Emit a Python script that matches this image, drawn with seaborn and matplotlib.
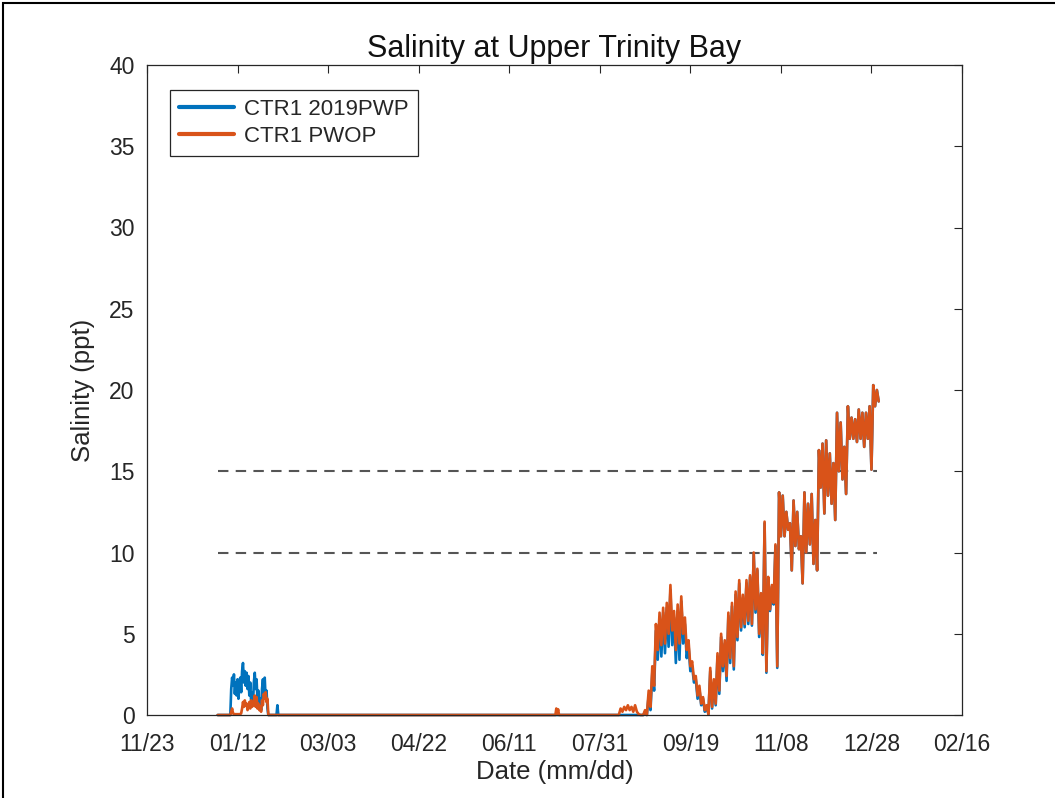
import matplotlib
matplotlib.use("Agg")
import matplotlib.pyplot as plt
import matplotlib.dates as mdates
import matplotlib.patches as mpatches
import numpy as np
import pandas as pd
import seaborn as sns

# day offsets in 2019 (0 = Jan 1)
jan_days = [0.0, 6.5, 7.0, 7.5, 8.0, 8.5, 9.0, 9.5, 10.0, 10.5, 11.0, 11.5,
            12.0, 12.5, 13.0, 13.5, 14.0, 14.5, 15.0, 15.5, 16.0, 16.5, 17.0,
            17.5, 18.0, 18.5, 19.0, 19.5, 20.0, 20.5, 21.0, 21.5, 22.0, 22.5,
            23.0, 23.5, 24.0, 24.5, 25.0, 25.5, 26.0, 26.5, 27.0, 27.5, 28.0,
            32.5, 33.0, 33.5]
jan_2019pwp = [0.0, 0.0, 0.0, 1.6, 2.3, 1.8, 2.5, 1.3, 2.0, 1.2, 2.2, 1.0,
               1.9, 2.3, 1.4, 2.7, 3.2, 2.0, 2.7, 1.8, 2.6, 1.6, 2.4,
               1.2, 2.0, 0.8, 1.4, 0.6, 2.0, 2.6, 1.6, 2.2, 0.9, 1.5,
               0.5, 1.0, 0.3, 1.6, 2.2, 1.2, 2.3, 1.0, 1.5, 0.4, 0.0,
               0.0, 0.6, 0.0]
jan_pwop = [0.0, 0.0, 0.0, 0.2, 0.4, 0.1, 0.05, 0.05, 0.05, 0.05, 0.05, 0.05,
            0.05, 0.05, 0.1, 0.4, 0.8, 0.5, 0.9, 0.6, 0.7, 0.3, 0.5,
            0.8, 0.4, 0.9, 0.5, 0.6, 0.8, 1.2, 0.5, 1.1, 0.4, 0.7,
            0.3, 0.5, 0.2, 0.9, 0.6, 1.3, 1.0, 1.4, 0.8, 1.0, 0.0,
            0.0, 0.0, 0.0]

# summer: both near zero, a few small bumps in PWOP
summer_days = [186.5, 187.0, 187.5, 188.0, 188.5, 221.5, 222.5, 223.5,
               224.5, 225.5, 226.5, 227.5, 228.5, 229.5, 230.5, 231.5,
               232.5, 233.5, 235.0]
summer_2019pwp = [0.0, 0.0, 0.0, 0.0, 0.0, 0.0, 0.0, 0.0,
                  0.0, 0.0, 0.0, 0.0, 0.0, 0.0, 0.0, 0.0,
                  0.0, 0.0, 0.0]
summer_pwop = [0.0, 0.4, 0.1, 0.35, 0.0, 0.0, 0.4, 0.2,
               0.5, 0.3, 0.6, 0.3, 0.5, 0.2, 0.6, 0.2,
               0.05, 0.0, 0.0]

# fall: tidal band, high and low reading for each 2-day step
fall_days = list(range(236, 366, 2))
pwop_hi = [0.3, 1.5, 3.0, 5.6, 6.3, 6.6, 6.9, 8.0, 6.4, 6.8, 7.3, 6.0, 4.6,
           3.3, 2.4, 1.8, 1.1, 0.6, 2.9, 2.2, 3.8, 5.0, 4.6, 6.3, 6.9, 7.6,
           8.3, 7.4, 8.3, 8.6, 10.0, 9.0, 7.5, 11.9, 8.5, 8.0, 10.5, 13.7,
           13.5, 12.5, 11.8, 13.2, 12.5, 11.0, 13.7, 13.0, 13.6, 12.0, 16.3,
           16.7, 16.9, 16.1, 15.5, 18.6, 18.0, 16.5, 19.0, 18.3, 18.2, 18.8,
           18.6, 18.6, 19.0, 20.3, 20.0]
pwop_lo = [0.0, 0.5, 1.8, 4.0, 4.3, 4.4, 5.0, 5.2, 4.0, 4.4, 5.0, 4.0, 3.0,
           2.2, 1.2, 0.7, 0.3, 0.05, 0.5, 0.7, 1.5, 3.0, 2.4, 3.5, 3.0, 4.8,
           5.4, 5.6, 5.8, 5.6, 6.5, 5.0, 3.8, 2.7, 6.5, 6.9, 3.0, 11.0,
           11.0, 11.4, 8.9, 10.4, 10.2, 8.1, 10.0, 10.5, 9.3, 8.9, 14.0,
           12.4, 13.5, 13.0, 12.0, 15.0, 14.5, 13.6, 17.0, 17.0, 16.8, 17.0,
           16.5, 17.0, 15.1, 19.0, 19.3]
pwp_hi = [0.2, 1.2, 2.6, 5.2, 6.0, 6.3, 6.6, 7.7, 6.0, 6.4, 7.0, 5.6, 4.3,
          3.0, 2.2, 1.6, 1.0, 0.5, 2.7, 2.0, 3.6, 4.8, 4.4, 6.1, 6.7, 7.4,
          8.1, 7.2, 8.1, 8.5, 9.9, 8.9, 7.4, 11.8, 8.4, 7.9, 10.4, 13.7,
          13.5, 12.5, 11.8, 13.2, 12.5, 11.0, 13.7, 13.0, 13.6, 12.0, 16.3,
          16.7, 16.9, 16.1, 15.5, 18.6, 18.0, 16.5, 19.0, 18.3, 18.2, 18.8,
          18.6, 18.6, 19.0, 20.3, 20.0]
pwp_lo = [0.0, 0.3, 1.5, 3.4, 3.6, 3.8, 4.2, 4.3, 3.2, 3.4, 4.4, 3.5, 2.7,
          2.0, 1.0, 0.6, 0.2, 0.05, 0.4, 0.6, 1.3, 2.7, 2.1, 3.2, 2.8, 4.6,
          5.2, 5.4, 5.6, 5.5, 6.3, 4.8, 3.7, 2.6, 6.4, 6.8, 2.9, 11.0,
          11.0, 11.4, 8.9, 10.4, 10.2, 8.1, 10.0, 10.5, 9.3, 8.9, 14.0,
          12.4, 13.5, 13.0, 12.0, 15.0, 14.5, 13.6, 17.0, 17.0, 16.8, 17.0,
          16.5, 17.0, 15.1, 19.0, 19.3]

series_names = ["CTR1 2019PWP", "CTR1 PWOP"]
series_colors = ["#0072BD", "#D95319"]
threshold_levels = [10, 15]
threshold_span = ["2019-01-01", "2019-12-31"]
tick_start, tick_end = "2018-11-23", "2020-02-16"


def zigzag(hi, lo):
    days = np.ravel(np.column_stack([fall_days, np.add(fall_days, 1)]))
    vals = np.ravel(np.column_stack([hi, lo]))
    return list(days), list(vals)


zz_days, zz_pwp = zigzag(pwp_hi, pwp_lo)
_, zz_pwop = zigzag(pwop_hi, pwop_lo)

start = pd.Timestamp("2019-01-01")
frames = []
for name, parts in [
    (series_names[0], [(jan_days, jan_2019pwp), (summer_days, summer_2019pwp), (zz_days, zz_pwp)]),
    (series_names[1], [(jan_days, jan_pwop), (summer_days, summer_pwop), (zz_days, zz_pwop)]),
]:
    d = np.concatenate([np.asarray(p[0], float) for p in parts])
    v = np.concatenate([np.asarray(p[1], float) for p in parts])
    frames.append(pd.DataFrame({
        "date": start + pd.to_timedelta(d, unit="D"),
        "salinity": v,
        "series": name,
    }))
df = pd.concat(frames, ignore_index=True)

sns.set_theme(style="white")
plt.rcParams["font.family"] = ["Liberation Sans", "DejaVu Sans"]

fig = plt.figure(figsize=(10.55, 7.98), dpi=100)
ax = fig.add_axes([147 / 1055, 1 - 715 / 798, 815 / 1055, 650 / 798])

sns.lineplot(data=df, x="date", y="salinity", hue="series",
             hue_order=series_names, palette=series_colors,
             estimator=None, sort=False, linewidth=1.9, ax=ax)
for ln in ax.get_lines():
    ln.set_clip_on(False)

for lvl in threshold_levels:
    ax.plot(pd.to_datetime(threshold_span), [lvl, lvl], color="#555555",
            linestyle=(0, (5, 3.5)), linewidth=1.5, zorder=1)

ax.set_xlim(pd.Timestamp(tick_start), pd.Timestamp(tick_end))
ax.set_ylim(0, 40)
ax.set_xticks(pd.date_range(tick_start, tick_end, freq="50D"))
ax.xaxis.set_major_formatter(mdates.DateFormatter("%m/%d"))
ax.set_yticks(range(0, 41, 5))
ax.tick_params(direction="in", length=6, width=0.8, colors="#262626",
               labelsize=16.5, top=True, right=True)
ax.tick_params(axis="x", pad=13)
ax.tick_params(axis="y", pad=9)
for s in ax.spines.values():
    s.set_color("#262626")
    s.set_linewidth(0.9)
    s.set_visible(True)

ax.set_title("Salinity at Upper Trinity Bay", fontsize=22, color="#111111", pad=6)
ax.set_xlabel("Date (mm/dd)", fontsize=18.5, color="#262626", labelpad=3)
ax.set_ylabel("Salinity (ppt)", fontsize=18.5, color="#262626", labelpad=10)

handles, labels = ax.get_legend_handles_labels()
leg = ax.legend(handles, labels, loc="upper left", bbox_to_anchor=(0.028, 0.962),
                fontsize=16, frameon=True, fancybox=False, framealpha=1,
                edgecolor="#262626", handlelength=2.5, borderpad=0.4,
                labelspacing=0.3, handletextpad=0.45, borderaxespad=0)
leg.get_frame().set_linewidth(0.9)
for ln in leg.get_lines():
    ln.set_linewidth(3)

# outer frame of the exported figure
fig.patches.append(mpatches.Rectangle((3 / 1055, -0.05), 1.1, 1.05 - 3 / 798,
                                      transform=fig.transFigure, fill=False,
                                      edgecolor="black", linewidth=1.5))

fig.savefig("out.png", dpi=100)
